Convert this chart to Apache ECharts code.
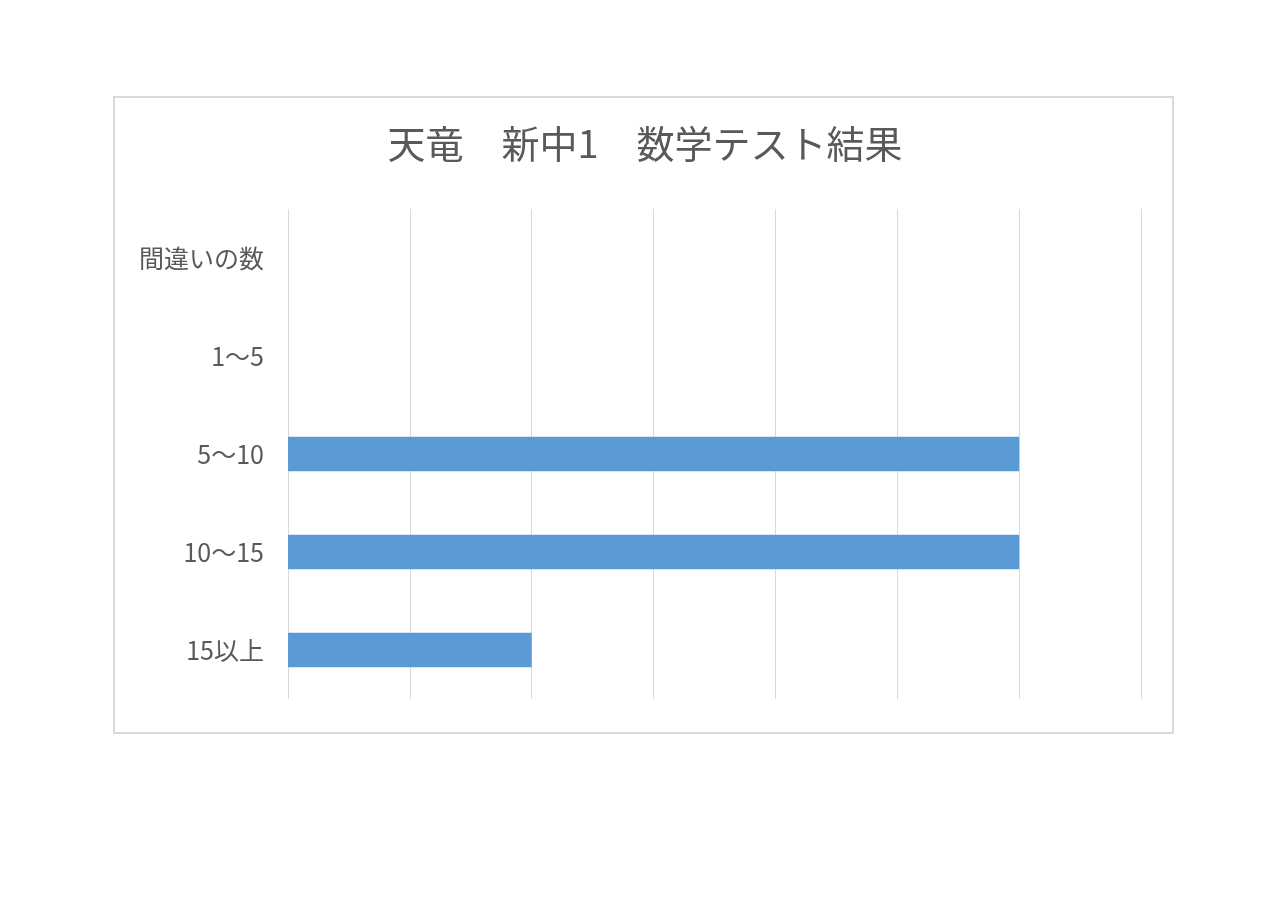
<!DOCTYPE html>
<html>
<head>
<meta charset="utf-8">
<script src="https://cdn.jsdelivr.net/npm/echarts@6/dist/echarts.min.js"></script>
<style>
    html, body { margin: 0; padding: 0; background: #fff; }
    #chart { width: 1280px; height: 906px; }
</style>
</head>
<body>
<div id="chart"></div>
<script>
// データ
var titleText = '天竜　新中1　数学テスト結果';
var categories = ['間違いの数', '1～5', '5～10', '10～15', '15以上'];
var counts = [null, 0, 6, 6, 2];
var axisMax = 7;

var font = '"Noto Sans CJK JP", "Noto Sans", sans-serif';
var myChart = echarts.init(document.getElementById('chart'));

var chartOptions = {
    backgroundColor: '#fff',
    animation: false,
    title: {
        text: titleText,
        left: 640,
        top: 120,
        textAlign: 'center',
        textStyle: {
            fontFamily: font,
            fontSize: 38,
            fontWeight: 'normal',
            color: '#595959'
        }
    },
    // 外枠
    graphic: [{
        type: 'rect',
        shape: { x: 114, y: 97, width: 1059, height: 636 },
        style: { fill: 'none', stroke: '#d9d9d9', lineWidth: 2 },
        silent: true
    }],
    grid: {
        left: 288,
        right: 139,
        top: 209,
        bottom: 207,
        containLabel: false
    },
    xAxis: {
        type: 'value',
        min: 0,
        max: axisMax,
        interval: 1,
        axisLabel: { show: false },
        axisLine: { show: false },
        axisTick: { show: false },
        splitLine: {
            lineStyle: { color: '#d9d9d9', width: 1 }
        }
    },
    yAxis: {
        type: 'category',
        inverse: true,
        data: categories,
        axisLine: { show: false },
        axisTick: { show: false },
        axisLabel: {
            margin: 24,
            fontFamily: font,
            fontSize: 25,
            color: '#595959'
        }
    },
    series: [{
        type: 'bar',
        data: counts,
        barCategoryGap: '65%',
        itemStyle: { color: '#5b9bd5' }
    }]
};

myChart.setOption(chartOptions, true);
</script>
</body>
</html>
